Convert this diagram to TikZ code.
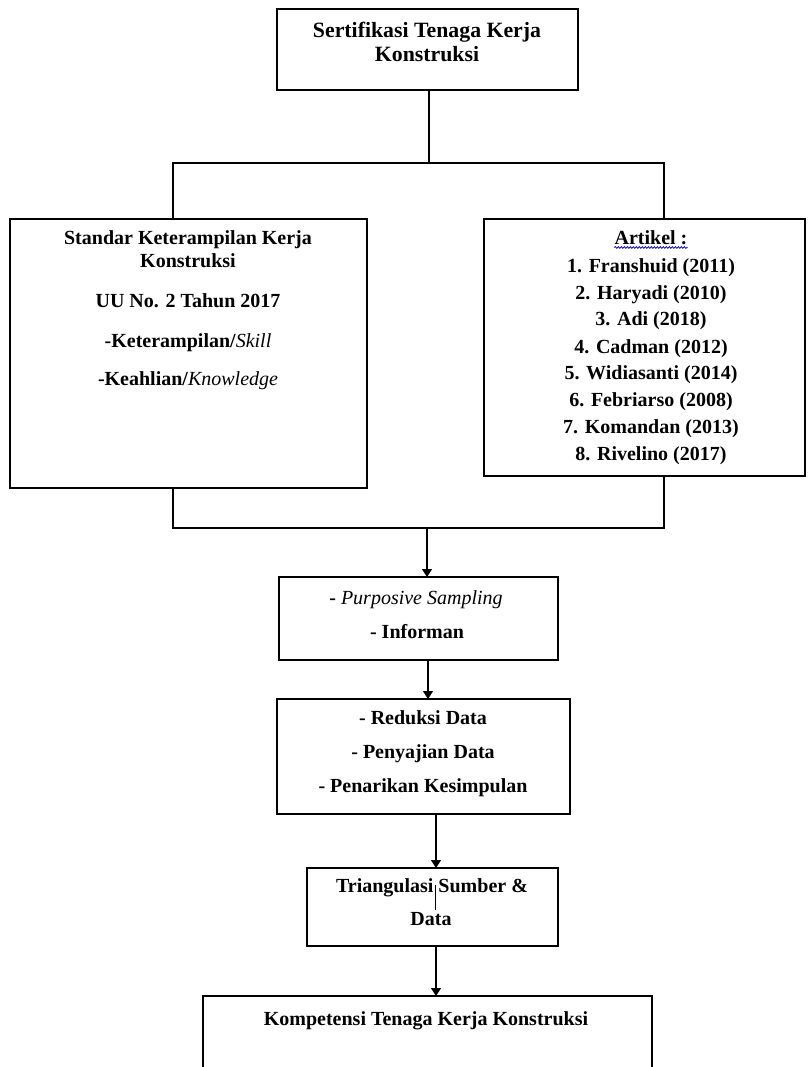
\documentclass[tikz,border=0pt]{standalone}
\usepackage{fontspec}
\setmainfont{Liberation Serif}
\usetikzlibrary{arrows.meta,decorations.pathmorphing}
\begin{document}
\begin{tikzpicture}[x=1pt,y=-1pt,
  box/.style={draw,line width=1.5pt,rectangle,inner sep=0pt,outer sep=0pt},
  conn/.style={line width=1.4pt},
  arr/.style={line width=1.4pt,-{Triangle[width=10pt,length=8pt]}},
  txt/.style={anchor=base,inner sep=0pt,font=\fontsize{20}{23}\selectfont\bfseries},
  ttl/.style={anchor=base,inner sep=0pt,font=\fontsize{21.8}{25}\selectfont\bfseries},
  wavy/.style={draw=blue!70!black,line width=0.7pt,decorate,decoration={snake,amplitude=0.9pt,segment length=3pt}}]
\useasboundingbox (0,0) rectangle (807,1067);
\clip (0,0) rectangle (807,1067);
% boxes
\node[box,minimum width=301pt,minimum height=81pt] (top) at (427.5,49.5) {};
\node[box,minimum width=357pt,minimum height=269pt] (left) at (188.5,353.5) {};
\node[box,minimum width=321pt,minimum height=257pt] (right) at (644.5,347.5) {};
\node[box,minimum width=279pt,minimum height=83pt] (b3) at (418.5,618.5) {};
\node[box,minimum width=293pt,minimum height=115pt] (b4) at (423.5,756.5) {};
\node[box,minimum width=251pt,minimum height=78pt] (b5) at (432.5,907) {};
\node[box,minimum width=449pt,minimum height=140pt] (b6) at (427.5,1066) {};
% texts
\node[ttl] (t1) at (427,38) {Sertifikasi Tenaga Kerja};
\node[ttl] (t2) at (427,62) {Konstruksi};
\node[txt] (l1) at (188,244) {Standar Keterampilan Kerja};
\node[txt] (l2) at (188,267) {Konstruksi};
\node[txt] (l3) at (188,307) {UU No. 2 Tahun 2017};
\node[txt] (l4) at (188,347) {-Keterampilan/\textit{\mdseries Skill}};
\node[txt] (l5) at (188,385) {-Keahlian/\textit{\mdseries Knowledge}};
\node[txt] (art) at (651,244) {Artikel :};
\node[txt] (r1) at (651,272) {1. Franshuid (2011)};
\node[txt] (r2) at (651,299) {2. Haryadi (2010)};
\node[txt] (r3) at (651,325) {3. Adi (2018)};
\node[txt] (r4) at (651,353) {4. Cadman (2012)};
\node[txt] (r5) at (651,379) {5. Widiasanti (2014)};
\node[txt] (r6) at (651,406) {6. Febriarso (2008)};
\node[txt] (r7) at (651,433) {7. Komandan (2013)};
\node[txt] (r8) at (651,460) {8. Rivelino (2017)};
\node[txt] (p1) at (416,604) {- \textit{\mdseries Purposive Sampling}};
\node[txt] (p2) at (417,638) {- Informan};
\node[txt] (d1) at (423,724) {- Reduksi Data};
\node[txt] (d2) at (423,758) {- Penyajian Data};
\node[txt] (d3) at (423,792) {- Penarikan Kesimpulan};
\node[txt] (s1) at (432,892) {Triangulasi Sumber \&};
\node[txt] (s2) at (431,925) {Data};
\node[txt] (k1) at (426,1025) {Kompetensi Tenaga Kerja Konstruksi};
\draw[wavy] ([yshift=-3.5pt]art.base west) -- ([yshift=-3.5pt]art.base east);
% upper connectors
\coordinate (j1) at (429,163);
\coordinate (jl) at (173,163);
\coordinate (jr) at (664,163);
\draw[conn] (j1 |- top.south) -- (j1);
\draw[conn] (jl |- left.north) -- (jl) -- (jr) -- (jr |- right.north);
% lower connectors
\coordinate (kl) at (173,528);
\coordinate (kr) at (664,528);
\coordinate (km) at (427,528);
\draw[conn] (kl |- left.south) -- (kl) -- (kr) -- (kr |- right.south);
\draw[arr] (km) -- (km |- b3.north);
\coordinate (a2) at (428,660);
\draw[arr] (a2 |- b3.south) -- (a2 |- b4.north);
\coordinate (a3) at (436,814);
\draw[arr] (a3 |- b4.south) -- (a3 |- b5.north);
\coordinate (st1) at (435,885);
\coordinate (st2) at (435,910);
\draw[line width=1pt] (st1) -- (st2);
\draw[arr] (a3 |- b5.south) -- (a3 |- b6.north);
\end{tikzpicture}
\end{document}
